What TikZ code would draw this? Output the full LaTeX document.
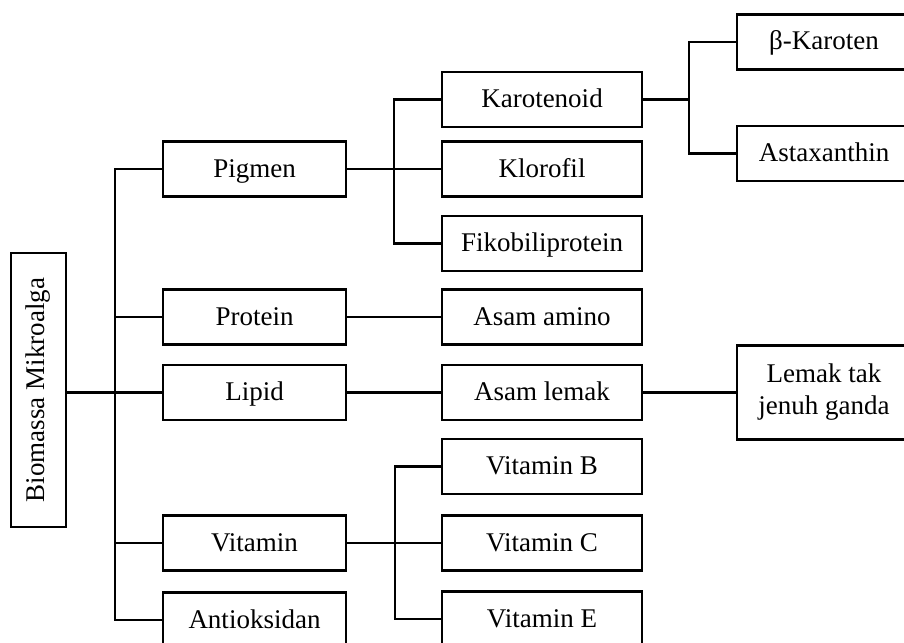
\documentclass[tikz,border=0pt]{standalone}
\usepackage{fontspec}
\setmainfont{Liberation Serif}
\usepackage{graphicx}
\usetikzlibrary{positioning,calc}

\begin{document}
\begin{tikzpicture}[
  x=1pt, y=-1pt,
  box/.style={draw=black, line width=2.4pt, minimum width=183pt, minimum height=55pt, inner sep=2pt, text height=20pt, text depth=4pt, align=center, font=\fontsize{27}{32}\selectfont},
  sub/.style={box, minimum width=200pt},
  leaf/.style={box, minimum width=174pt},
  link/.style={line width=2.4pt}
]
\useasboundingbox (0,0) rectangle (904,642);
\clip (0,0) rectangle (904,642);

\node[box, minimum width=55pt, minimum height=274pt, text height=, text depth=] (root) at (38.5,390) {\rotatebox{90}{Biomassa Mikroalga}};

\node[box] (pigmen) at (254.5,169) {Pigmen};
\node[box] (protein) at (254.5,317) {Protein};
\node[box] (lipid) at (254.5,392.5) {Lipid};
\node[box] (vitamin) at (254.5,543) {Vitamin};
\node[box] (antioks) at (254.5,620) {Antioksidan};

\node[sub] (karo) at (542,99.5) {Karotenoid};
\node[sub] (klor) at (542,169) {Klorofil};
\node[sub] (fiko) at (542,243.5) {Fikobiliprotein};
\node[sub] (amino) at (542,317) {Asam amino};
\node[sub] (asamlemak) at (542,392.5) {Asam lemak};
\node[sub] (vitb) at (542,466.5) {Vitamin B};
\node[sub] (vitc) at (542,543) {Vitamin C};
\node[sub] (vite) at (542,619) {Vitamin E};

\node[leaf] (beta) at (824,42) {β-Karoten};
\node[leaf] (asta) at (824,153.5) {Astaxanthin};
\node[leaf, minimum height=94pt, text height=, text depth=] (pufa) at (824,392.5) {Lemak tak\\jenuh ganda};

\coordinate (trunk) at (115,0);
\coordinate (forkP) at (394,0);
\coordinate (forkV) at (395,0);
\coordinate (forkK) at (689,0);

\draw[link] (root.east |- lipid) -- (lipid.west);
\draw[link] (pigmen.west) -- (pigmen.west -| trunk) -- (antioks.west -| trunk) -- (antioks.west);
\foreach \n in {protein,vitamin}
  \draw[link] (\n.west) -- (\n.west -| trunk);

\draw[link] (pigmen.east) -- (klor.west);
\draw[link] (karo.west) -- (karo.west -| forkP) -- (fiko.west -| forkP) -- (fiko.west);

\draw[link] (protein.east) -- (amino.west);
\draw[link] (lipid.east) -- (asamlemak.west);
\draw[link] (asamlemak.east) -- (pufa.west);

\draw[link] (vitamin.east) -- (vitc.west);
\draw[link] (vitb.west) -- (vitb.west -| forkV) -- (vite.west -| forkV) -- (vite.west);

\draw[link] (karo.east) -- (karo.east -| forkK);
\draw[link] (beta.west) -- (beta.west -| forkK) -- (asta.west -| forkK) -- (asta.west);
\end{tikzpicture}
\end{document}
